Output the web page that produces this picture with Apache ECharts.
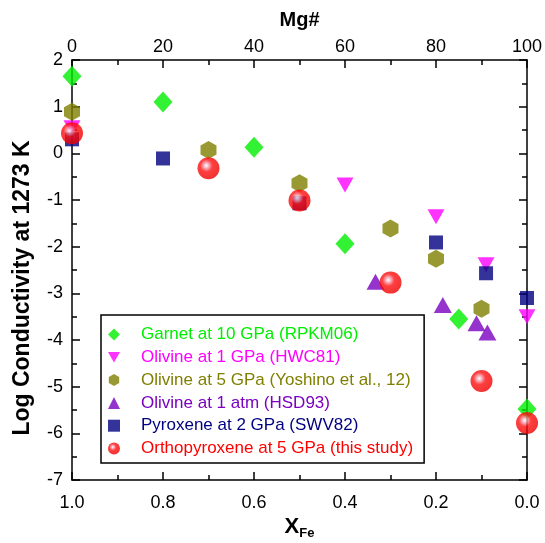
<!DOCTYPE html>
<html>
<head>
<meta charset="utf-8">
<script src="https://cdn.jsdelivr.net/npm/echarts@6/dist/echarts.min.js"></script>
<style>
  html, body { margin: 0; padding: 0; background: #fff; }
  #chart { width: 545px; height: 543px; }
</style>
</head>
<body>
<div id="chart"></div>
<script>
// x values are X_Fe (1 - Mg#/100), y is log conductivity at 1273 K
var garnetX = [1.0, 0.8, 0.6, 0.4, 0.15, 0.0]
var garnetY = [1.65, 1.1, 0.13, -1.94, -3.55, -5.48]
var ol1gpaX = [1.0, 0.4, 0.2, 0.09, 0.0]
var ol1gpaY = [0.55, -0.68, -1.36, -2.39, -3.5]
var ol5gpaX = [1.0, 0.7, 0.5, 0.3, 0.2, 0.1]
var ol5gpaY = [0.89, 0.07, -0.64, -1.61, -2.26, -3.33]
var ol1atmX = [0.333, 0.185, 0.111, 0.087]
var ol1atmY = [-2.75, -3.25, -3.64, -3.84]
var pyxX = [1.0, 0.8, 0.5, 0.2, 0.09, 0.0]
var pyxY = [0.3, -0.11, -1.07, -1.91, -2.57, -3.1]
var opxX = [1.0, 0.7, 0.5, 0.3, 0.1, 0.0]
var opxY = [0.43, -0.32, -1.01, -2.77, -4.88, -5.78]

var names = [
  'Garnet at 10 GPa (RPKM06)',
  'Olivine at 1 GPa (HWC81)',
  'Olivine at 5 GPa (Yoshino et al., 12)',
  'Olivine at 1 atm (HSD93)',
  'Pyroxene at 2 GPa (SWV82)',
  'Orthopyroxene at 5 GPa (this study)'
]
var colors = ['#00ee00', '#ff00ff', '#7f7f00', '#7b00c0', '#000080', '#ff0000']

function pairs(xs, ys) {
  return xs.map(function(x, i) { return [x, ys[i]] })
}

var hexagon = 'path://M0,-1L0.866,-0.5L0.866,0.5L0,1L-0.866,0.5L-0.866,-0.5Z'
var downTri = 'path://M0,0L2,0L1,1.75Z'
var ball = {
  type: 'radial', x: 0.4, y: 0.38, r: 0.62,
  colorStops: [
    { offset: 0, color: '#ffffff' },
    { offset: 0.18, color: '#f6a0b0' },
    { offset: 0.45, color: '#ff1010' },
    { offset: 1, color: '#ee0000' }
  ]
}
var legendIcons = ['diamond', downTri, hexagon, 'triangle', 'rect', 'circle']

var chart = echarts.init(document.getElementById('chart'))
var font = 'Liberation Sans, Arial'
var axisFont = { fontFamily: font, fontSize: 18, color: '#000' }
var lineStyle = { color: '#000', width: 1.5 }

chart.setOption({
  animation: false,
  grid: { left: 72, right: 18, top: 60, bottom: 63, outerBoundsMode: 'none' },
  legend: {
    orient: 'vertical',
    left: 101,
    top: 315,
    itemWidth: 12,
    itemHeight: 12,
    itemGap: 5.8,
    padding: [11, 11, 6, 7],
    borderColor: '#000',
    borderWidth: 1.5,
    textStyle: { fontFamily: font, fontSize: 17, lineHeight: 17, padding: [0, 0, 0, 16] },
    data: names.map(function(n, i) {
      return { name: n, icon: legendIcons[i], textStyle: { color: colors[i] } }
    })
  },
  xAxis: [
    {
      type: 'value', min: 0, max: 1, interval: 0.2, inverse: true, position: 'bottom',
      name: '{a|X}{b|Fe}',
      nameLocation: 'middle',
      nameGap: 33,
      nameMoveOverlap: false,
      nameTextStyle: {
        rich: {
          a: { fontFamily: font, fontSize: 22, fontWeight: 'bold', color: '#000' },
          b: { fontFamily: font, fontSize: 13, fontWeight: 'bold', color: '#000', padding: [14, 0, 0, 0] }
        }
      },
      axisLine: { onZero: false, lineStyle: lineStyle },
      axisTick: { inside: true, length: 8, lineStyle: lineStyle },
      minorTick: { show: true, splitNumber: 2, length: 5, lineStyle: lineStyle },
      axisLabel: Object.assign({ margin: 14, formatter: function(v) { return v.toFixed(1) } }, axisFont),
      splitLine: { show: false }
    },
    {
      type: 'value', min: 0, max: 100, interval: 20, position: 'top',
      name: 'Mg#',
      nameLocation: 'middle',
      nameGap: 30,
      nameMoveOverlap: false,
      nameTextStyle: { fontFamily: font, fontSize: 20, fontWeight: 'bold', color: '#000' },
      axisLine: { onZero: false, lineStyle: lineStyle },
      axisTick: { inside: true, length: 8, lineStyle: lineStyle },
      minorTick: { show: true, splitNumber: 2, length: 5, lineStyle: lineStyle },
      axisLabel: Object.assign({ margin: 4 }, axisFont),
      splitLine: { show: false }
    }
  ],
  yAxis: [
    {
      type: 'value', min: -7, max: 2, interval: 1, position: 'left',
      name: 'Log Conductivity at 1273 K',
      nameLocation: 'middle',
      nameGap: 38,
      nameMoveOverlap: false,
      nameTextStyle: { fontFamily: font, fontSize: 23, fontWeight: 'bold', color: '#000', padding: [0, 36, 0, 0] },
      axisLine: { onZero: false, lineStyle: lineStyle },
      axisTick: { inside: true, length: 8, lineStyle: lineStyle },
      minorTick: { show: true, splitNumber: 2, length: 5, lineStyle: lineStyle },
      axisLabel: Object.assign({ margin: 9 }, axisFont),
      splitLine: { show: false }
    },
    {
      type: 'value', min: -7, max: 2, interval: 1, position: 'right',
      axisLine: { onZero: false, lineStyle: lineStyle },
      axisTick: { inside: true, length: 8, lineStyle: lineStyle },
      minorTick: { show: true, splitNumber: 2, length: 5, lineStyle: lineStyle },
      axisLabel: { show: false },
      splitLine: { show: false }
    }
  ],
  series: [
    { name: names[0], type: 'scatter', symbol: 'diamond', symbolSize: [19, 21], itemStyle: { color: colors[0] }, data: pairs(garnetX, garnetY) },
    { name: names[1], type: 'scatter', symbol: 'triangle', symbolRotate: 180, symbolSize: [17, 15], itemStyle: { color: colors[1] }, data: pairs(ol1gpaX, ol1gpaY) },
    { name: names[2], type: 'scatter', symbol: hexagon, symbolSize: [16, 18], itemStyle: { color: colors[2] }, data: pairs(ol5gpaX, ol5gpaY) },
    { name: names[3], type: 'scatter', symbol: 'triangle', symbolSize: [18, 16], itemStyle: { color: colors[3] }, data: pairs(ol1atmX, ol1atmY) },
    { name: names[4], type: 'scatter', symbol: 'rect', symbolSize: 14, itemStyle: { color: colors[4] }, data: pairs(pyxX, pyxY) },
    { name: names[5], type: 'scatter', symbol: 'circle', symbolSize: 22, itemStyle: { color: ball }, data: pairs(opxX, opxY) }
  ]
})
</script>
</body>
</html>
